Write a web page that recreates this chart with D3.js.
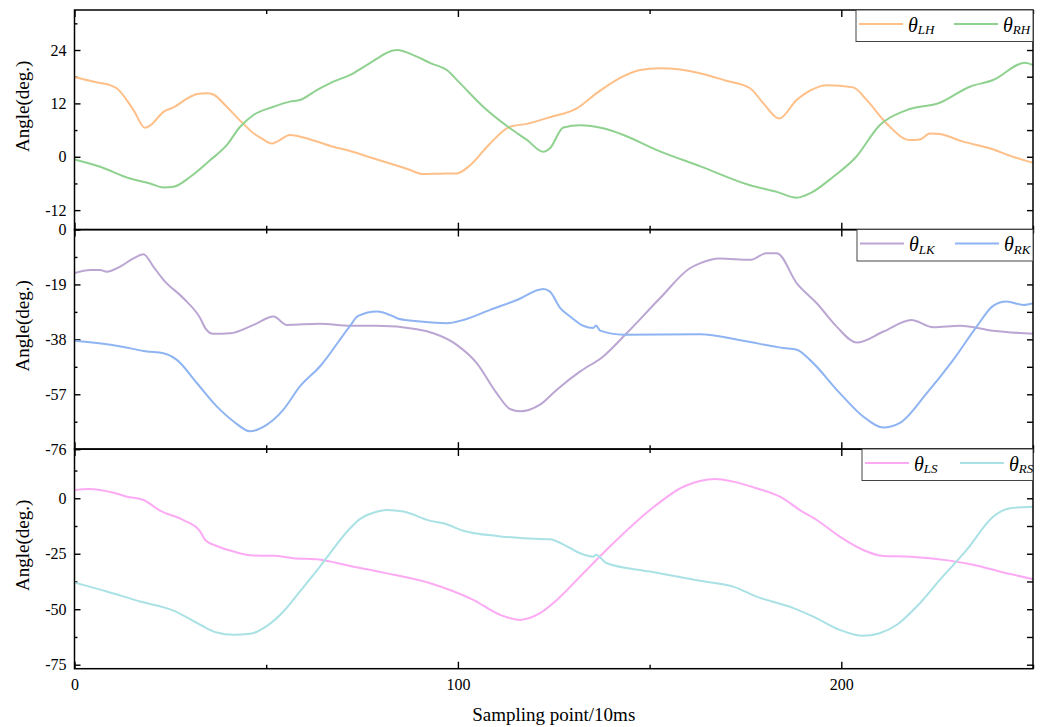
<!DOCTYPE html>
<html>
<head>
<meta charset="utf-8">
<script src="https://cdn.jsdelivr.net/npm/d3@7"></script>
<style>
  body { margin: 0; background: #fff; }
  svg { display: block; font-family: 'Liberation Serif', 'Times New Roman', serif; }
</style>
</head>
<body>
<div id="chart"></div>
<script>
// sampled angles [sampling point, degrees]
const lhData = [[0, 17.9], [4, 17.1], [6.7, 16.6], [9.3, 16.1], [11, 15.4], [15.4, 10.5], [18.4, 6.5], [20, 7.2], [23.2, 10.1], [25.8, 11.1], [30.2, 13.5], [32, 14.1], [34.5, 14.3], [36.2, 14.0], [39.7, 11.25], [43, 8.3], [46.7, 5.3], [49, 4.0], [51.5, 3.0], [52.8, 3.4], [56.2, 4.9], [61.5, 3.9], [67.5, 2.25], [71.9, 1.3], [77, -0.1], [82.3, -1.5], [87, -2.8], [91, -3.9], [95, -3.8], [99.7, -3.75], [103.2, -1.9], [108.4, 3.0], [113.6, 6.75], [118, 7.4], [124, 8.9], [131, 10.9], [136.2, 14.3], [141.4, 17.3], [147.5, 19.5], [152.7, 19.9], [158, 19.6], [163.1, 18.8], [170, 17.1], [176.2, 15.4], [179.7, 12.0], [183.8, 8.6], [188.4, 12.8], [191.8, 14.85], [196.2, 16.1], [203.1, 15.6], [206.6, 12.8], [211.8, 7.5], [217.9, 3.75], [220.5, 3.9], [223.1, 5.25], [225.7, 5.1], [231.8, 3.4], [238.7, 1.9], [244.8, 0], [250, -1.35]]
const rhData = [[0, -0.6], [6.7, -2.25], [14.5, -4.9], [19.7, -6.0], [23.2, -6.9], [25.8, -6.75], [30.2, -4.5], [35.4, -0.75], [39.7, 2.6], [43.2, 6.75], [46.7, 9.4], [51.9, 11.25], [56.2, 12.4], [58.8, 12.75], [63.2, 15.0], [67.5, 16.9], [71.9, 18.4], [76.2, 20.6], [84.1, 24.0], [89.3, 22.5], [93, 21], [97.1, 19.5], [100.6, 16.5], [106.6, 11.25], [113.6, 6.4], [118, 3.8], [122.3, 1.1], [124, 1.9], [127.5, 6.6], [131.9, 7.1], [137.9, 6.4], [143.2, 4.9], [151.9, 1.5], [163.1, -2.1], [176.2, -6.4], [183.2, -7.9], [188.4, -9.2], [191.8, -8.25], [197.9, -4.5], [203.9, 0], [210, 7.1], [217, 10.5], [225.7, 12.15], [233.5, 15.75], [239.6, 17.25], [247.9, 21.15], [250, 20.6]]
const lkData = [[0, -15.1], [4.1, -14.0], [6.7, -14.0], [8.4, -14.6], [11.9, -12.85], [15.4, -10.0], [18, -8.6], [20.6, -12.9], [23.2, -17.4], [28.4, -23.8], [32.8, -30.7], [34.1, -34.1], [36.2, -36.1], [40.6, -35.9], [46.7, -33.0], [51.9, -30.1], [55.4, -33.0], [64, -32.6], [71.9, -33.3], [78.9, -33.3], [89.3, -34.5], [93.6, -35.9], [99.7, -39.9], [104.9, -46.2], [110.1, -56.6], [113.6, -62.1], [116.2, -62.9], [121.4, -60.6], [125.8, -55.4], [131.9, -49.1], [137.9, -43.9], [144, -35.9], [152.7, -23.8], [160.5, -13.4], [163.1, -11.7], [168.3, -10.0], [176.2, -10.5], [180.5, -8.2], [183.2, -8.2], [188.4, -18.6], [193.6, -25.5], [198.8, -33.6], [204, -39.1], [211, -35.3], [218.3, -31.3], [224, -33.8], [231, -33.3], [239.6, -35], [250, -36.1]]
const rkData = [[0, -38.5], [11, -40.2], [18.9, -42.2], [23.2, -42.8], [26.7, -45.1], [31.9, -53.1], [37.1, -61.2], [41.5, -66.4], [45.8, -69.8], [50.2, -67.5], [54.5, -62.3], [58.8, -54.3], [64, -47.4], [71.9, -33.3], [74, -29.9], [78.9, -28.4], [83.2, -30.1], [84.5, -30.9], [90.1, -31.8], [97.1, -32.4], [101.4, -31.3], [108.4, -27.8], [115.4, -24.4], [122.3, -20.6], [124, -21.5], [126.7, -27.2], [129.3, -30.1], [132.7, -33.3], [135.3, -34.1], [136, -33.2], [137.1, -35.0], [143.2, -36.4], [163.1, -36.2], [174.4, -38.5], [184.9, -41.0], [188.4, -41.6], [191.8, -45.1], [199.6, -56.6], [205.7, -64.7], [211, -68.5], [215.3, -66.9], [222.3, -56.6], [229.2, -45.1], [235.3, -33.6], [239.6, -26.4], [243.1, -24.9], [247.5, -26.1], [250, -25.5]]
const lsData = [[0, 3.7], [3.7, 4.2], [10.2, 2.5], [13.7, 0.7], [18, -0.8], [22.3, -5.6], [28.4, -9.8], [32.8, -15.0], [34.1, -18.8], [37.1, -21.5], [41.5, -24.0], [46.7, -25.8], [51.9, -25.9], [57.1, -27.0], [63.2, -27.5], [71.9, -30.5], [80.6, -33.5], [92.8, -38.3], [104, -45.8], [111, -52.5], [116.2, -54.8], [121.4, -51.8], [125.8, -45.8], [132.7, -33.8], [141.4, -18.8], [150.1, -5.3], [158.8, 5.2], [163.1, 7.8], [167.1, 8.7], [171.8, 7.5], [177.9, 4.5], [184, 0.7], [189.2, -5.3], [193.6, -9.8], [199.6, -17.3], [205.7, -23.3], [211, -26], [218, -26.3], [228.3, -28.1], [234.4, -30.0], [241.3, -33], [250, -36.5]]
const rsData = [[0, -38.0], [8.4, -42.0], [17.1, -46.5], [25.8, -50.6], [32.8, -57.0], [37.1, -60.5], [41.5, -61.5], [45.8, -61.1], [50.2, -57.5], [54.5, -51.0], [58.8, -42.0], [64, -30.8], [71.9, -13.5], [74.5, -9.3], [78, -6.5], [81.5, -5.3], [85.8, -6.0], [92.8, -10.2], [96.2, -11.3], [101.4, -14.6], [110.1, -17.0], [117.1, -18.0], [124, -18.5], [129.3, -22.5], [131.9, -24.8], [135.3, -26.3], [136, -25.5], [138.8, -29.3], [150.1, -33.0], [163.1, -37.2], [171.8, -39.8], [177.9, -44.3], [187.5, -49.5], [192.7, -53.3], [199.6, -59.3], [205.7, -62.0], [210, -60.8], [214.5, -57.0], [219.7, -48.8], [225.7, -36.8], [232.7, -23.3], [239.6, -8.3], [244, -4.5], [250, -3.8]]

const xTicks = [0, 100, 200]
const xMinorTicks = [50, 150, 250]
const hipTicks = [24, 12, 0, -12]
const kneeTicks = [0, -19, -38, -57, -76]
const ankleTicks = [0, -25, -50, -75]

const panels = [
  { series: [lhData, rhData], names: ['LH', 'RH'], colors: ['#ffbf88', '#8fd18f'], domain: [-16.4, 33], ticks: hipTicks, minor: 6, top: 10, legendX: 856 },
  { series: [lkData, rkData], names: ['LK', 'RK'], colors: ['#bba6d3', '#8fb4f2'], domain: [-76, 0], ticks: kneeTicks, minor: 9.5, top: 229.5, legendX: 857 },
  { series: [lsData, rsData], names: ['LS', 'RS'], colors: ['#fcaaf4', '#a9e1e5'], domain: [-76.8, 22.2], ticks: ankleTicks, minor: 12.5, top: 449, legendX: 862 }
]

const width = 1049
const height = 727
const left = 74.5
const right = 1033
const panelH = 219.7

const svg = d3.select('#chart').append('svg').attr('width', width).attr('height', height)

const x = d3.scaleLinear().domain([0, 250]).range([left, right])

// plain hyphen minus like the original figure
const plain = (d) => String(d)

function minorValues (domain, step, ticks) {
  const out = []
  for (let v = Math.ceil(domain[0] / step) * step; v <= domain[1]; v += step) {
    if (!ticks.some((t) => Math.abs(t - v) < 1e-6)) out.push(v)
  }
  return out
}

function styleAxis (g) {
  g.select('.domain').remove()
  g.selectAll('line').attr('stroke', '#000').attr('stroke-width', 1.4)
  g.selectAll('text').attr('fill', '#000').style('font-size', '16px').style('font-family', "'Liberation Serif', 'Times New Roman', serif")
}

panels.forEach((p, i) => {
  const top = p.top
  const bottom = top + panelH
  const y = d3.scaleLinear().domain(p.domain).range([bottom, top])
  const g = svg.append('g')
  const minor = minorValues(p.domain, p.minor, p.ticks)

  // y axes, ticks pointing inwards
  g.append('g').attr('transform', `translate(${left},0)`)
    .call(d3.axisLeft(y).tickValues(p.ticks).tickSizeInner(-6).tickSizeOuter(0).tickPadding(8).tickFormat(plain))
    .call(styleAxis)
  g.append('g').attr('transform', `translate(${left},0)`)
    .call(d3.axisLeft(y).tickValues(minor).tickSizeInner(-3).tickSizeOuter(0).tickFormat(''))
    .call(styleAxis)
  g.append('g').attr('transform', `translate(${right},0)`)
    .call(d3.axisRight(y).tickValues(p.ticks.concat(minor)).tickSizeInner(-6).tickSizeOuter(0).tickFormat(''))
    .call(styleAxis)

  // x axes on both edges
  g.append('g').attr('transform', `translate(0,${top})`)
    .call(d3.axisTop(x).tickValues(xTicks).tickSizeInner(-7).tickSizeOuter(0).tickFormat(''))
    .call(styleAxis)
  g.append('g').attr('transform', `translate(0,${top})`)
    .call(d3.axisTop(x).tickValues(xMinorTicks).tickSizeInner(-4).tickSizeOuter(0).tickFormat(''))
    .call(styleAxis)
  g.append('g').attr('transform', `translate(0,${bottom})`)
    .call(d3.axisBottom(x).tickValues(xTicks).tickSizeInner(-7).tickSizeOuter(0).tickPadding(10)
      .tickFormat(i === panels.length - 1 ? plain : ''))
    .call(styleAxis)
  g.append('g').attr('transform', `translate(0,${bottom})`)
    .call(d3.axisBottom(x).tickValues(xMinorTicks).tickSizeInner(-4).tickSizeOuter(0).tickFormat(''))
    .call(styleAxis)

  const line = d3.line()
    .x((d) => x(d[0]))
    .y((d) => y(d[1]))
    .curve(d3.curveMonotoneX)

  p.series.forEach((data, j) => {
    g.append('path')
      .datum(data)
      .attr('fill', 'none')
      .attr('stroke', p.colors[j])
      .attr('stroke-width', 2)
      .attr('stroke-linejoin', 'round')
      .attr('d', line)
  })

  g.append('rect')
    .attr('x', left).attr('y', top)
    .attr('width', right - left).attr('height', panelH)
    .attr('fill', 'none').attr('stroke', '#000').attr('stroke-width', 1.5)

  g.append('text')
    .attr('transform', `translate(29,${(top + bottom) / 2 - 13.5}) rotate(-90)`)
    .attr('text-anchor', 'middle')
    .style('font-size', '19px')
    .text('Angle(deg.)')

  // legend box
  const lg = g.append('g').attr('transform', `translate(${p.legendX},${top})`)
  lg.append('rect')
    .attr('width', right - p.legendX).attr('height', 31.5)
    .attr('fill', '#fff').attr('stroke', '#444').attr('stroke-width', 1)
  p.names.forEach((name, j) => {
    const ox = 3 + j * 95
    lg.append('line')
      .attr('x1', ox).attr('x2', ox + 44)
      .attr('y1', 14).attr('y2', 14)
      .attr('stroke', p.colors[j]).attr('stroke-width', 2)
    const t = lg.append('text')
      .attr('x', ox + 49).attr('y', 21.5)
      .style('font-style', 'italic')
      .style('font-size', '20px')
    t.append('tspan').text('θ')
    t.append('tspan').attr('dy', 2.5).style('font-size', '13px').text(name)
  })
})

svg.append('text')
  .attr('x', (left + right) / 2)
  .attr('y', 721)
  .attr('text-anchor', 'middle')
  .style('font-size', '19px')
  .text('Sampling point/10ms')
</script>
</body>
</html>
